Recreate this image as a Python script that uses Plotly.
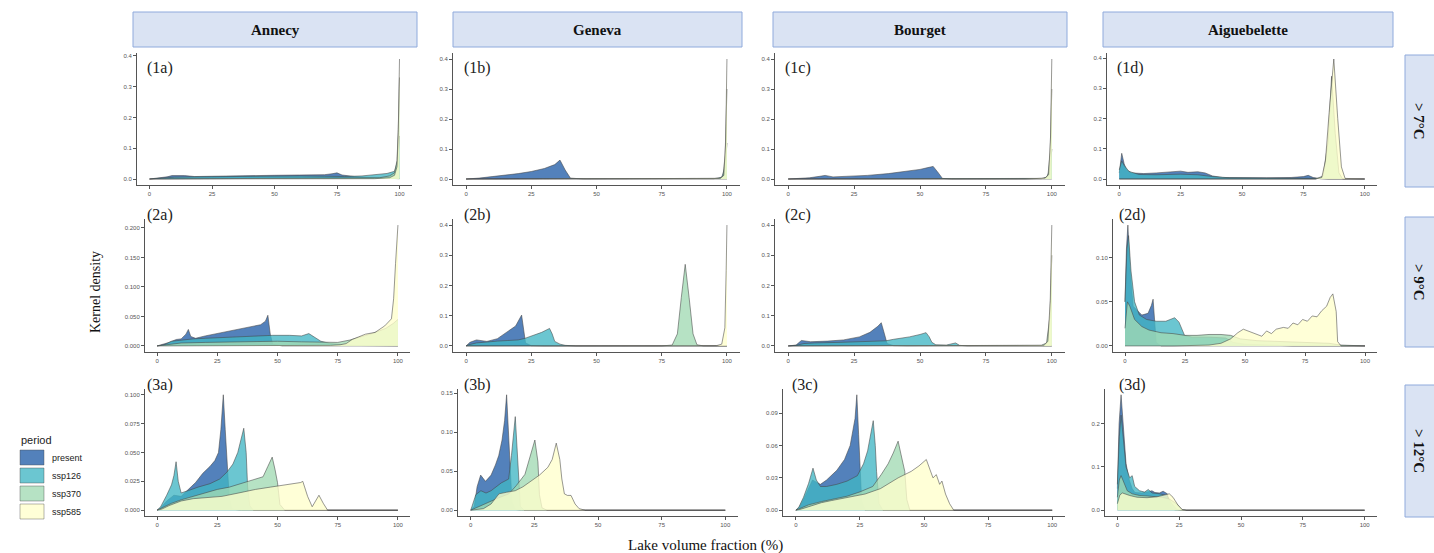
import plotly.graph_objects as go

# ---------------------------------------------------------------------------
# Facet labels, periods and axis ticks
# ---------------------------------------------------------------------------
LAKES = ["Annecy", "Geneva", "Bourget", "Aiguebelette"]
THRESHOLDS = ["> 7°C", "> 9°C", "> 12°C"]
PERIODS = ["present", "ssp126", "ssp370", "ssp585"]
PERIOD_COLORS = ["#225ea8", "#41b6c4", "#a1dab4", "#ffffcc"]
PANEL_TAGS = [["(1a)", "(1b)", "(1c)", "(1d)"],
              ["(2a)", "(2b)", "(2c)", "(2d)"],
              ["(3a)", "(3b)", "(3c)", "(3d)"]]
X_TICKS = [0, 25, 50, 75, 100]
X_TICK_TEXT = ["0", "25", "50", "75", "100"]

Y_TICKS = [
    [[0, 0.1, 0.2, 0.3, 0.4], [0, 0.1, 0.2, 0.3, 0.4], [0, 0.1, 0.2, 0.3, 0.4], [0, 0.1, 0.2, 0.3, 0.4]],
    [[0, 0.05, 0.1, 0.15, 0.2], [0, 0.1, 0.2, 0.3, 0.4], [0, 0.1, 0.2, 0.3, 0.4], [0, 0.05, 0.1]],
    [[0, 0.025, 0.05, 0.075, 0.1], [0, 0.05, 0.1, 0.15], [0, 0.03, 0.06, 0.09], [0, 0.1, 0.2]],
]
Y_TICK_TEXT = [
    [["0.0", "0.1", "0.2", "0.3", "0.4"]] * 4,
    [["0.000", "0.050", "0.100", "0.150", "0.200"], ["0.0", "0.1", "0.2", "0.3", "0.4"],
     ["0.0", "0.1", "0.2", "0.3", "0.4"], ["0.00", "0.05", "0.10"]],
    [["0.000", "0.025", "0.050", "0.075", "0.100"], ["0.00", "0.05", "0.10", "0.15"],
     ["0.00", "0.03", "0.06", "0.09"], ["0.0", "0.1", "0.2"]],
]

# ---------------------------------------------------------------------------
# Kernel density curves: (lake volume fraction %, density)
# ---------------------------------------------------------------------------
# > 7 °C
ANNECY_7_PRESENT = [(0, 0), (3, 0.002), (7, 0.007), (9, 0.011), (14, 0.011), (18, 0.008), (25, 0.009), (30, 0.010),
                    (36, 0.012), (50, 0.012), (60, 0.013), (70, 0.014), (73, 0.017), (75, 0.02), (77, 0.013),
                    (82, 0.008), (88, 0.005), (93, 0.003), (97, 0.002), (100, 0.001)]
ANNECY_7_SSP126 = [(0, 0), (5, 0.003), (10, 0.006), (20, 0.007), (30, 0.008), (40, 0.010), (50, 0.011), (60, 0.010),
                   (70, 0.009), (78, 0.008), (85, 0.010), (90, 0.013), (95, 0.018), (98, 0.025), (99.3, 0.06),
                   (100, 0.14)]
ANNECY_7_SSP370 = [(0, 0), (20, 0.001), (50, 0.001), (80, 0.002), (92, 0.004), (96, 0.01), (98, 0.02), (99, 0.06),
                   (99.5, 0.16), (100, 0.33)]
ANNECY_7_SSP585 = [(0, 0), (60, 0), (90, 0.001), (96, 0.004), (98, 0.012), (99, 0.04), (99.5, 0.15), (100, 0.39)]

GENEVA_7_PRESENT = [(0, 0), (2, 0.001), (5, 0.003), (10, 0.008), (15, 0.012), (20, 0.018), (25, 0.025), (30, 0.035),
                    (34, 0.048), (36, 0.063), (38, 0.03), (40, 0.003), (45, 0), (100, 0)]
GENEVA_7_SSP126 = [(0, 0), (40, 0), (80, 0), (95, 0.001), (98, 0.006), (99.3, 0.04), (100, 0.12)]
GENEVA_7_SSP370 = [(0, 0), (90, 0), (97, 0.002), (98.5, 0.01), (99.3, 0.08), (100, 0.3)]
GENEVA_7_SSP585 = [(0, 0), (90, 0), (97.5, 0.002), (98.8, 0.012), (99.5, 0.12), (100, 0.4)]

BOURGET_7_PRESENT = [(0, 0), (3, 0.001), (8, 0.004), (12, 0.009), (14, 0.012), (17, 0.007), (22, 0.008), (30, 0.012),
                     (38, 0.018), (45, 0.025), (50, 0.032), (53, 0.038), (55, 0.042), (57, 0.02), (58.5, 0.002),
                     (62, 0), (100, 0)]
BOURGET_7_SSP126 = [(0, 0), (50, 0), (90, 0), (96, 0.001), (98, 0.006), (99.3, 0.03), (100, 0.1)]
BOURGET_7_SSP370 = [(0, 0), (90, 0), (97, 0.002), (98.5, 0.01), (99.4, 0.09), (100, 0.3)]
BOURGET_7_SSP585 = [(0, 0), (90, 0), (97.5, 0.003), (98.8, 0.015), (99.5, 0.14), (100, 0.4)]

AIGUEBELETTE_7_PRESENT = [(0, 0.02), (0.5, 0.06), (1, 0.085), (2, 0.05), (3, 0.03), (5, 0.02), (10, 0.018),
                          (15, 0.02), (20, 0.022), (25, 0.026), (28, 0.022), (32, 0.024), (35, 0.02), (38, 0.01),
                          (42, 0.005), (50, 0.004), (60, 0.004), (70, 0.005), (75, 0.008), (77, 0.012),
                          (79, 0.005), (82, 0.001), (85, 0), (100, 0)]
AIGUEBELETTE_7_SSP126 = [(0, 0.03), (1, 0.06), (2, 0.045), (4, 0.025), (8, 0.015), (15, 0.014), (25, 0.016),
                         (32, 0.014), (38, 0.008), (45, 0.004), (60, 0.003), (75, 0.004), (80, 0.002), (85, 0),
                         (100, 0)]
AIGUEBELETTE_7_SSP370 = [(0, 0), (80, 0), (83, 0.01), (85, 0.12), (86.5, 0.34), (88, 0.15), (89.5, 0.02), (91, 0),
                         (100, 0)]
AIGUEBELETTE_7_SSP585 = [(0, 0), (80, 0), (82.5, 0.005), (84, 0.06), (85.5, 0.22), (87.4, 0.397), (89, 0.2),
                         (90.5, 0.04), (92, 0.002), (100, 0)]

# > 9 °C
ANNECY_9_PRESENT = [(0, 0), (2, 0.002), (5, 0.006), (8, 0.011), (10, 0.012), (12, 0.02), (13, 0.028), (14, 0.016),
                    (16, 0.013), (20, 0.017), (25, 0.021), (30, 0.025), (35, 0.029), (40, 0.033), (43, 0.036),
                    (45, 0.042), (46, 0.052), (47, 0.02), (48, 0.003), (52, 0), (100, 0)]
ANNECY_9_SSP126 = [(0, 0), (3, 0.002), (6, 0.008), (10, 0.01), (15, 0.012), (20, 0.013), (30, 0.015), (40, 0.016),
                   (48, 0.018), (55, 0.018), (60, 0.017), (63, 0.021), (65, 0.016), (68, 0.008), (72, 0.004),
                   (76, 0.002), (80, 0.001), (100, 0)]
ANNECY_9_SSP370 = [(0, 0), (5, 0.002), (10, 0.005), (20, 0.006), (30, 0.007), (40, 0.008), (50, 0.008),
                   (60, 0.007), (70, 0.006), (75, 0.006), (80, 0.01), (85, 0.016), (90, 0.022), (95, 0.03),
                   (98, 0.038), (100, 0.045)]
ANNECY_9_SSP585 = [(0, 0), (65, 0), (72, 0.001), (76, 0.002), (78.5, 0.004), (81, 0.011), (86.5, 0.02),
                   (90.5, 0.023), (94.5, 0.034), (97.3, 0.046), (98.2, 0.08), (99, 0.14), (100, 0.205)]

GENEVA_9_PRESENT = [(0, 0), (1.5, 0.012), (4, 0.02), (8, 0.015), (12, 0.024), (15.5, 0.045), (19, 0.066),
                    (21.3, 0.102), (22, 0.06), (22.8, 0.01), (25, 0.001), (30, 0), (100, 0)]
GENEVA_9_SSP126 = [(0, 0), (1, 0.004), (4, 0.01), (8, 0.014), (12, 0.016), (16, 0.018), (20, 0.02), (22.5, 0.025),
                   (26, 0.035), (29, 0.045), (32, 0.058), (33, 0.04), (34, 0.015), (36, 0.006), (38, 0.002),
                   (42, 0), (100, 0)]
GENEVA_9_SSP370 = [(0, 0), (75, 0), (79, 0.003), (81, 0.04), (82.5, 0.16), (84, 0.27), (85.5, 0.16), (87, 0.04),
                   (88.5, 0.004), (91, 0), (100, 0)]
GENEVA_9_SSP585 = [(0, 0), (90, 0), (96, 0.001), (98, 0.006), (99.2, 0.06), (99.7, 0.25), (100, 0.4)]

BOURGET_9_PRESENT = [(0, 0), (3, 0.003), (5, 0.018), (8.5, 0.014), (15, 0.016), (21, 0.02), (27, 0.03), (31, 0.045),
                     (34, 0.065), (35.3, 0.077), (36.5, 0.04), (37.5, 0.008), (40, 0.001), (45, 0), (100, 0)]
BOURGET_9_SSP126 = [(0, 0), (3, 0.002), (6, 0.008), (10, 0.01), (20, 0.012), (30, 0.014), (37, 0.017), (40, 0.022),
                    (46, 0.03), (50, 0.038), (52.3, 0.044), (53.5, 0.03), (54.5, 0.012), (56, 0.004), (60, 0.003),
                    (63.5, 0.01), (65, 0.002), (68, 0), (100, 0)]
BOURGET_9_SSP370 = [(0, 0), (60, 0), (90, 0), (96, 0.002), (98, 0.01), (99.3, 0.1), (100, 0.3)]
BOURGET_9_SSP585 = [(0, 0), (90, 0), (97, 0.002), (98.5, 0.015), (99.4, 0.15), (100, 0.4)]

AIGUEBELETTE_9_PRESENT = [(0, 0.05), (0.6, 0.11), (1.2, 0.137), (2, 0.09), (3.4, 0.045), (5, 0.04), (7, 0.035),
                          (9.6, 0.037), (11, 0.046), (11.7, 0.053), (12.3, 0.03), (13, 0.004), (15, 0), (100, 0)]
AIGUEBELETTE_9_SSP126 = [(0, 0.05), (0.8, 0.11), (1.5, 0.125), (2.5, 0.085), (4, 0.05), (6, 0.035), (9, 0.03),
                         (13, 0.028), (17, 0.028), (20.7, 0.032), (22.5, 0.027), (24.8, 0.012), (28, 0.01),
                         (35, 0.01), (42, 0.009), (45, 0.004), (50, 0.002), (60, 0.001), (70, 0), (100, 0)]
AIGUEBELETTE_9_SSP370 = [(0, 0.02), (1, 0.05), (2, 0.045), (4, 0.03), (7, 0.022), (10, 0.018), (15, 0.015),
                         (20, 0.014), (25, 0.012), (30, 0.012), (35, 0.013), (40, 0.013), (44, 0.012), (48, 0.008),
                         (55, 0.006), (65, 0.005), (75, 0.004), (85, 0.003), (90, 0.001), (100, 0)]
AIGUEBELETTE_9_SSP585 = [(0, 0), (20, 0), (35, 0.001), (40, 0.003), (44, 0.008), (47, 0.015), (49.3, 0.019),
                         (52, 0.016), (55, 0.013), (57, 0.011), (59, 0.017), (61, 0.014), (63, 0.019), (66, 0.021),
                         (68, 0.02), (70, 0.026), (72, 0.024), (74, 0.03), (76, 0.028), (78, 0.034), (80, 0.033),
                         (82, 0.04), (84, 0.045), (85.5, 0.055), (86.6, 0.059), (88, 0.039), (88.6, 0.005),
                         (90, 0), (100, 0)]

# > 12 °C
ANNECY_12_PRESENT = [(0, 0), (1.5, 0.002), (4, 0.008), (7, 0.013), (10, 0.012), (13, 0.018), (16, 0.024),
                     (19, 0.032), (22, 0.038), (24, 0.043), (25.5, 0.05), (26.5, 0.07), (27.5, 0.1), (28.3, 0.07),
                     (29, 0.04), (30, 0.01), (31, 0.001), (35, 0), (100, 0)]
ANNECY_12_SSP126 = [(0, 0), (1.5, 0.003), (4, 0.013), (6, 0.022), (7, 0.03), (7.9, 0.042), (8.8, 0.025),
                    (10, 0.015), (13, 0.017), (17, 0.02), (22, 0.023), (26, 0.027), (29, 0.033), (31.5, 0.04),
                    (33.5, 0.05), (35, 0.062), (36, 0.071), (37, 0.05), (37.6, 0.02), (38.5, 0.004), (40, 0),
                    (100, 0)]
ANNECY_12_SSP370 = [(0, 0), (2, 0.002), (6, 0.006), (10, 0.009), (15, 0.012), (20, 0.015), (25, 0.018), (30, 0.02),
                    (35, 0.023), (40, 0.026), (44, 0.029), (46, 0.038), (47.8, 0.046), (49, 0.035), (50, 0.024),
                    (51, 0.005), (53, 0), (100, 0)]
ANNECY_12_SSP585 = [(0, 0), (2, 0.001), (5, 0.004), (10, 0.008), (15, 0.01), (20, 0.011), (27, 0.012),
                    (34, 0.015), (40.8, 0.018), (47, 0.02), (53, 0.022), (59.6, 0.024), (60.5, 0.025),
                    (62.5, 0.012), (64.4, 0.003), (67.2, 0.013), (69, 0.006), (70.8, 0), (100, 0)]

GENEVA_12_PRESENT = [(0, 0), (1.4, 0.005), (2.5, 0.03), (3.9, 0.045), (5.8, 0.037), (8, 0.045), (9.7, 0.058),
                     (11, 0.07), (12.3, 0.09), (13.3, 0.115), (14.1, 0.148), (14.8, 0.1), (15.6, 0.055),
                     (16.2, 0.01), (17.5, 0.001), (20, 0), (100, 0)]
GENEVA_12_SSP126 = [(0, 0), (1, 0.01), (2, 0.02), (4, 0.025), (6, 0.022), (8, 0.025), (10, 0.03), (12, 0.035),
                    (14.9, 0.04), (16, 0.07), (17.5, 0.12), (18.2, 0.08), (18.8, 0.032), (19.5, 0.005), (21, 0),
                    (100, 0)]
GENEVA_12_SSP370 = [(0, 0), (2, 0.003), (5, 0.008), (8, 0.012), (11, 0.016), (15, 0.021), (18, 0.032),
                    (21.3, 0.046), (23.5, 0.07), (25.2, 0.09), (26.4, 0.062), (27, 0.02), (28, 0.003), (30, 0),
                    (100, 0)]
GENEVA_12_SSP585 = [(0, 0), (5, 0.002), (8, 0.008), (11.1, 0.021), (14, 0.023), (17.5, 0.025), (20.5, 0.03),
                    (23.9, 0.038), (27, 0.045), (30.3, 0.055), (32, 0.065), (33.6, 0.086), (35, 0.065),
                    (35.8, 0.04), (36.8, 0.021), (38, 0.019), (39.4, 0.019), (41, 0.008), (42.6, 0.002),
                    (45, 0), (100, 0)]

BOURGET_12_PRESENT = [(0, 0), (1.2, 0.002), (3, 0.01), (5, 0.02), (6.5, 0.028), (8, 0.026), (9.6, 0.024),
                      (12, 0.028), (16, 0.037), (19, 0.047), (21.2, 0.06), (23.1, 0.085), (23.8, 0.107),
                      (24.5, 0.07), (25, 0.04), (25.7, 0.008), (27, 0), (100, 0)]
BOURGET_12_SSP126 = [(0, 0), (1.2, 0.003), (3, 0.012), (5, 0.025), (6.7, 0.039), (8, 0.028), (9.6, 0.022),
                     (12, 0.022), (16, 0.024), (20, 0.027), (24, 0.032), (26.4, 0.043), (28, 0.055), (29.5, 0.075),
                     (30.2, 0.083), (31, 0.06), (31.5, 0.036), (32.5, 0.006), (34, 0), (100, 0)]
BOURGET_12_SSP370 = [(0, 0), (2, 0.002), (5, 0.005), (10, 0.008), (14, 0.01), (20, 0.013), (25, 0.017), (30, 0.022),
                     (33.3, 0.033), (36, 0.043), (38, 0.053), (39.9, 0.064), (41, 0.052), (42.5, 0.036),
                     (43.3, 0.01), (44.5, 0), (100, 0)]
BOURGET_12_SSP585 = [(0, 0), (2, 0.001), (6, 0.004), (10, 0.007), (14, 0.009), (20, 0.012), (27, 0.015),
                     (33, 0.02), (39.9, 0.03), (45, 0.036), (48, 0.041), (50.9, 0.047), (52, 0.04), (53.5, 0.03),
                     (54.8, 0.033), (56.1, 0.024), (57, 0.027), (58.4, 0.015), (60, 0.006), (61.6, 0), (100, 0)]

AIGUEBELETTE_12_PRESENT = [(0, 0.05), (0.7, 0.2), (1.5, 0.267), (2.3, 0.2), (3.5, 0.108), (4.8, 0.07), (6, 0.05),
                           (7.1, 0.041), (9.8, 0.04), (12, 0.042), (14, 0.045), (15.2, 0.041), (17, 0.04),
                           (18.5, 0.044), (20.2, 0.038), (21, 0.02), (22, 0.003), (24, 0), (100, 0)]
AIGUEBELETTE_12_SSP126 = [(0, 0.06), (0.8, 0.17), (1.5, 0.22), (2.3, 0.17), (3.5, 0.1), (5, 0.075), (6, 0.08),
                          (7, 0.055), (9, 0.045), (11, 0.042), (12.5, 0.048), (14, 0.04), (17, 0.038), (20, 0.034),
                          (22, 0.015), (24, 0.002), (26, 0), (100, 0)]
AIGUEBELETTE_12_SSP370 = [(0, 0.03), (0.8, 0.07), (1.5, 0.08), (2.5, 0.065), (4, 0.045), (6, 0.038), (9, 0.034),
                          (12, 0.033), (15, 0.032), (18, 0.03), (21, 0.026), (24, 0.015), (26, 0.002), (28, 0),
                          (100, 0)]
AIGUEBELETTE_12_SSP585 = [(0, 0.015), (1, 0.035), (2, 0.04), (3, 0.038), (5, 0.034), (8, 0.03), (12, 0.029),
                          (16, 0.031), (19, 0.035), (21, 0.038), (22.5, 0.03), (24.5, 0.012), (26.3, 0.001), (28, 0),
                          (100, 0)]

# grid of curves: rows = thresholds, columns = lakes, each cell holds the 4 periods
CURVES = [
    [[ANNECY_7_PRESENT, ANNECY_7_SSP126, ANNECY_7_SSP370, ANNECY_7_SSP585],
     [GENEVA_7_PRESENT, GENEVA_7_SSP126, GENEVA_7_SSP370, GENEVA_7_SSP585],
     [BOURGET_7_PRESENT, BOURGET_7_SSP126, BOURGET_7_SSP370, BOURGET_7_SSP585],
     [AIGUEBELETTE_7_PRESENT, AIGUEBELETTE_7_SSP126, AIGUEBELETTE_7_SSP370, AIGUEBELETTE_7_SSP585]],
    [[ANNECY_9_PRESENT, ANNECY_9_SSP126, ANNECY_9_SSP370, ANNECY_9_SSP585],
     [GENEVA_9_PRESENT, GENEVA_9_SSP126, GENEVA_9_SSP370, GENEVA_9_SSP585],
     [BOURGET_9_PRESENT, BOURGET_9_SSP126, BOURGET_9_SSP370, BOURGET_9_SSP585],
     [AIGUEBELETTE_9_PRESENT, AIGUEBELETTE_9_SSP126, AIGUEBELETTE_9_SSP370, AIGUEBELETTE_9_SSP585]],
    [[ANNECY_12_PRESENT, ANNECY_12_SSP126, ANNECY_12_SSP370, ANNECY_12_SSP585],
     [GENEVA_12_PRESENT, GENEVA_12_SSP126, GENEVA_12_SSP370, GENEVA_12_SSP585],
     [BOURGET_12_PRESENT, BOURGET_12_SSP126, BOURGET_12_SSP370, BOURGET_12_SSP585],
     [AIGUEBELETTE_12_PRESENT, AIGUEBELETTE_12_SSP126, AIGUEBELETTE_12_SSP370, AIGUEBELETTE_12_SSP585]],
]

# ---------------------------------------------------------------------------
# Page geometry (pixels)
# ---------------------------------------------------------------------------
W, H = 1434, 553
PANEL_X = [
    [(137, 412), (453, 740), (775, 1065), (1107, 1377)],
    [(145, 410), (453, 740), (775, 1065), (1113, 1377)],
    [(145, 410), (458, 738), (783, 1065), (1105, 1377)],
]
PANEL_Y = [(53, 185), (219, 352), (389, 516)]
TAG_POS = [
    [(145, 68), (462, 68), (783, 68), (1115, 68)],
    [(145, 215), (462, 215), (783, 215), (1117, 215)],
    [(145, 385), (462, 385), (790, 385), (1117, 385)],
]
HEADER_X = [(133, 417), (453, 742), (773, 1067), (1103, 1393)]
HEADER_Y = (12, 47)
SIDE_X = (1405, 1445)
SIDE_Y = [(55, 187), (217, 347), (385, 517)]

SERIF = "Liberation Serif, Times New Roman, serif"
SANS = "Liberation Sans, Arial, sans-serif"


def px(x):
    return x / W


def py(y):
    return 1 - y / H


def rgba(hex_color, a):
    h = hex_color.lstrip("#")
    r, g, b = int(h[0:2], 16), int(h[2:4], 16), int(h[4:6], 16)
    return f"rgba({r},{g},{b},{a})"


FILL_ALPHA = 0.78
OUTLINE = "rgba(70,70,70,0.8)"

fig = go.Figure()
layout = {}
annotations = []
shapes = []

for r in range(3):
    for c in range(4):
        n = r * 4 + c + 1
        suffix = "" if n == 1 else str(n)
        curves = CURVES[r][c]
        ymax = max(v for curve in curves for _, v in curve)
        for p, curve in enumerate(curves):
            fig.add_trace(go.Scatter(
                x=[pt[0] for pt in curve], y=[pt[1] for pt in curve],
                mode="lines", fill="tozeroy",
                fillcolor=rgba(PERIOD_COLORS[p], FILL_ALPHA),
                line=dict(color=OUTLINE, width=0.7),
                name=PERIODS[p], showlegend=False, hoverinfo="skip",
                xaxis="x" + suffix, yaxis="y" + suffix,
            ))
        x0, x1 = PANEL_X[r][c]
        y0, y1 = PANEL_Y[r]
        axis_style = dict(showline=True, linecolor="#555", linewidth=1, showgrid=False, zeroline=False,
                          ticks="outside", ticklen=3, tickwidth=1, tickcolor="#555",
                          tickfont=dict(size=6, color="#555", family=SANS))
        layout["xaxis" + suffix] = dict(
            domain=[px(x0), px(x1)], anchor="y" + suffix, range=[-5, 105],
            tickvals=X_TICKS, ticktext=X_TICK_TEXT, **axis_style)
        layout["yaxis" + suffix] = dict(
            domain=[py(y1), py(y0)], anchor="x" + suffix, range=[-0.05 * ymax, 1.05 * ymax],
            tickvals=Y_TICKS[r][c], ticktext=Y_TICK_TEXT[r][c], **axis_style)
        tx, ty = TAG_POS[r][c]
        annotations.append(dict(x=px(tx), y=py(ty), xref="paper", yref="paper", text=PANEL_TAGS[r][c],
                                showarrow=False, xanchor="left", yanchor="middle",
                                font=dict(family=SERIF, size=16, color="#222")))

# lake headers
for c, lake in enumerate(LAKES):
    x0, x1 = HEADER_X[c]
    shapes.append(dict(type="rect", xref="paper", yref="paper", x0=px(x0), x1=px(x1),
                       y0=py(HEADER_Y[1]), y1=py(HEADER_Y[0]),
                       fillcolor="#dae3f3", line=dict(color="#8faadc", width=1), layer="below"))
    annotations.append(dict(x=px((x0 + x1) / 2), y=py(sum(HEADER_Y) / 2), xref="paper", yref="paper",
                            text=f"<b>{lake}</b>", showarrow=False, xanchor="center", yanchor="middle",
                            font=dict(family=SERIF, size=15, color="#111")))

# threshold strips
for r, label in enumerate(THRESHOLDS):
    y0, y1 = SIDE_Y[r]
    shapes.append(dict(type="rect", xref="paper", yref="paper", x0=px(SIDE_X[0]), x1=px(SIDE_X[1]),
                       y0=py(y1), y1=py(y0),
                       fillcolor="#dae3f3", line=dict(color="#8faadc", width=1), layer="below"))
    annotations.append(dict(x=px(1419), y=py((y0 + y1) / 2), xref="paper", yref="paper",
                            text=f"<b>{label}</b>", showarrow=False, textangle=90,
                            xanchor="center", yanchor="middle",
                            font=dict(family=SERIF, size=15, color="#111")))

# axis titles
annotations.append(dict(x=px(705), y=py(545), xref="paper", yref="paper", text="Lake volume fraction (%)",
                        showarrow=False, xanchor="center", yanchor="middle",
                        font=dict(family=SERIF, size=15, color="#111")))
annotations.append(dict(x=px(95), y=py(292), xref="paper", yref="paper", text="Kernel density",
                        showarrow=False, textangle=-90, xanchor="center", yanchor="middle",
                        font=dict(family=SERIF, size=14, color="#111")))

# period legend
annotations.append(dict(x=px(19), y=py(440), xref="paper", yref="paper", text="period", showarrow=False,
                        xanchor="left", yanchor="middle", font=dict(family=SANS, size=11, color="#222")))
for p, name in enumerate(PERIODS):
    top = 450 + p * 18
    shapes.append(dict(type="rect", xref="paper", yref="paper", x0=px(20), x1=px(44),
                       y0=py(top + 15), y1=py(top),
                       fillcolor=rgba(PERIOD_COLORS[p], FILL_ALPHA), line=dict(color=OUTLINE, width=0.5)))
    annotations.append(dict(x=px(50), y=py(top + 7.5), xref="paper", yref="paper", text=name,
                            showarrow=False, xanchor="left", yanchor="middle",
                            font=dict(family=SANS, size=9, color="#222")))

fig.update_layout(
    width=W, height=H, margin=dict(l=0, r=0, t=0, b=0),
    paper_bgcolor="white", plot_bgcolor="white",
    showlegend=False, annotations=annotations, shapes=shapes, **layout,
)

fig.write_html("out.html")
